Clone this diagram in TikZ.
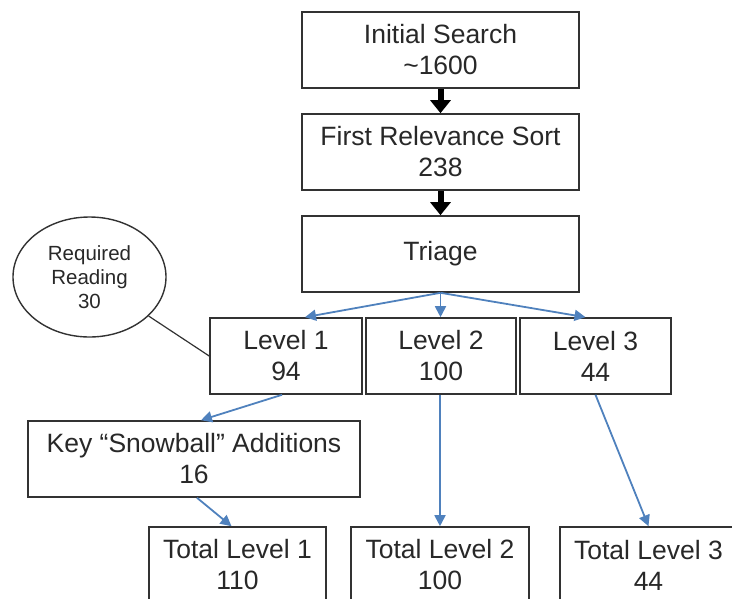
\documentclass[tikz,border=0pt]{standalone}
\usepackage{fontspec}
\setmainfont{Liberation Sans}
\usetikzlibrary{arrows.meta, shapes.geometric}

\definecolor{flowblue}{RGB}{79,129,189}
\definecolor{boxline}{RGB}{50,50,50}
\definecolor{boxtext}{RGB}{40,40,40}

\begin{document}
\begin{tikzpicture}[x = 1pt, y = -1pt,
	> = {Triangle[width = 11pt, length = 11pt]},
	box/.style = {draw = boxline, line width = 1.6pt, fill = white, text = boxtext, align = center,
		inner sep = 0pt, minimum height = 76pt, font = \fontsize{26.5}{31}\selectfont},
	bubble/.style = {ellipse, draw = boxline, line width = 1.4pt, text = boxtext, align = center,
		inner sep = 0pt, minimum width = 153pt, minimum height = 120pt, font = \fontsize{20.5}{24}\selectfont},
	flow/.style = {->, flowblue, line width = 1.8pt},
	bigflow/.style = {-{Triangle[width = 20pt, length = 13pt]}, black, line width = 6pt}]

	\useasboundingbox (0, 0) rectangle (732, 598);
	\clip (0, 0) rectangle (732, 598);

	% Search and sort

	\node [box, minimum width = 277pt] (search) at (440.5, 50) {Initial Search\\\textasciitilde1600};
	\node [box, minimum width = 277pt] (sort) at (440.5, 152) {First Relevance Sort\\238};
	\node [box, minimum width = 277pt] (triage) at (440.5, 254) {Triage};

	\draw [bigflow] (search.south) -- (sort.north);
	\draw [bigflow] (sort.south) -- (triage.north);

	% Levels

	\node [box, minimum width = 152pt] (lev1) at (286, 356) {Level 1\\94};
	\node [box, minimum width = 150pt] (lev2) at (441, 356) {Level 2\\100};
	\node [box, minimum width = 151pt] (lev3) at (595.5, 356) {Level 3\\44};

	\draw [flow] (triage.south) -- ([xshift = 19pt] lev1.north);
	\draw [flow] (triage.south) -- (lev2.north -| triage.south);
	\draw [flow] (triage.south) -- ([xshift = -10pt] lev3.north);

	% Required reading bubble

	\node [bubble] (reading) at (89.5, 277) {Required\\Reading\\30};
	\draw [boxline, line width = 1.2pt] (reading) -- (lev1.west);

	% Snowball and totals

	\node [box, minimum width = 332pt] (snowball) at (194, 459) {Key “Snowball” Additions\\16};
	\draw [flow] ([xshift = -4pt] lev1.south) -- ([xshift = 7pt] snowball.north);

	\node [box, minimum width = 177pt] (total1) at (237.5, 565) {Total Level 1\\110};
	\node [box, minimum width = 178pt] (total2) at (440, 565) {Total Level 2\\100};
	\node [box, minimum width = 177pt] (total3) at (648.5, 565) {Total Level 3\\44};

	\draw [flow] ([xshift = 3pt] snowball.south) -- ([xshift = -6pt] total1.north);
	\draw [flow] (total2.north |- lev2.south) -- (total2.north);
	\draw [flow] (lev3.south) -- (total3.north);

\end{tikzpicture}
\end{document}
